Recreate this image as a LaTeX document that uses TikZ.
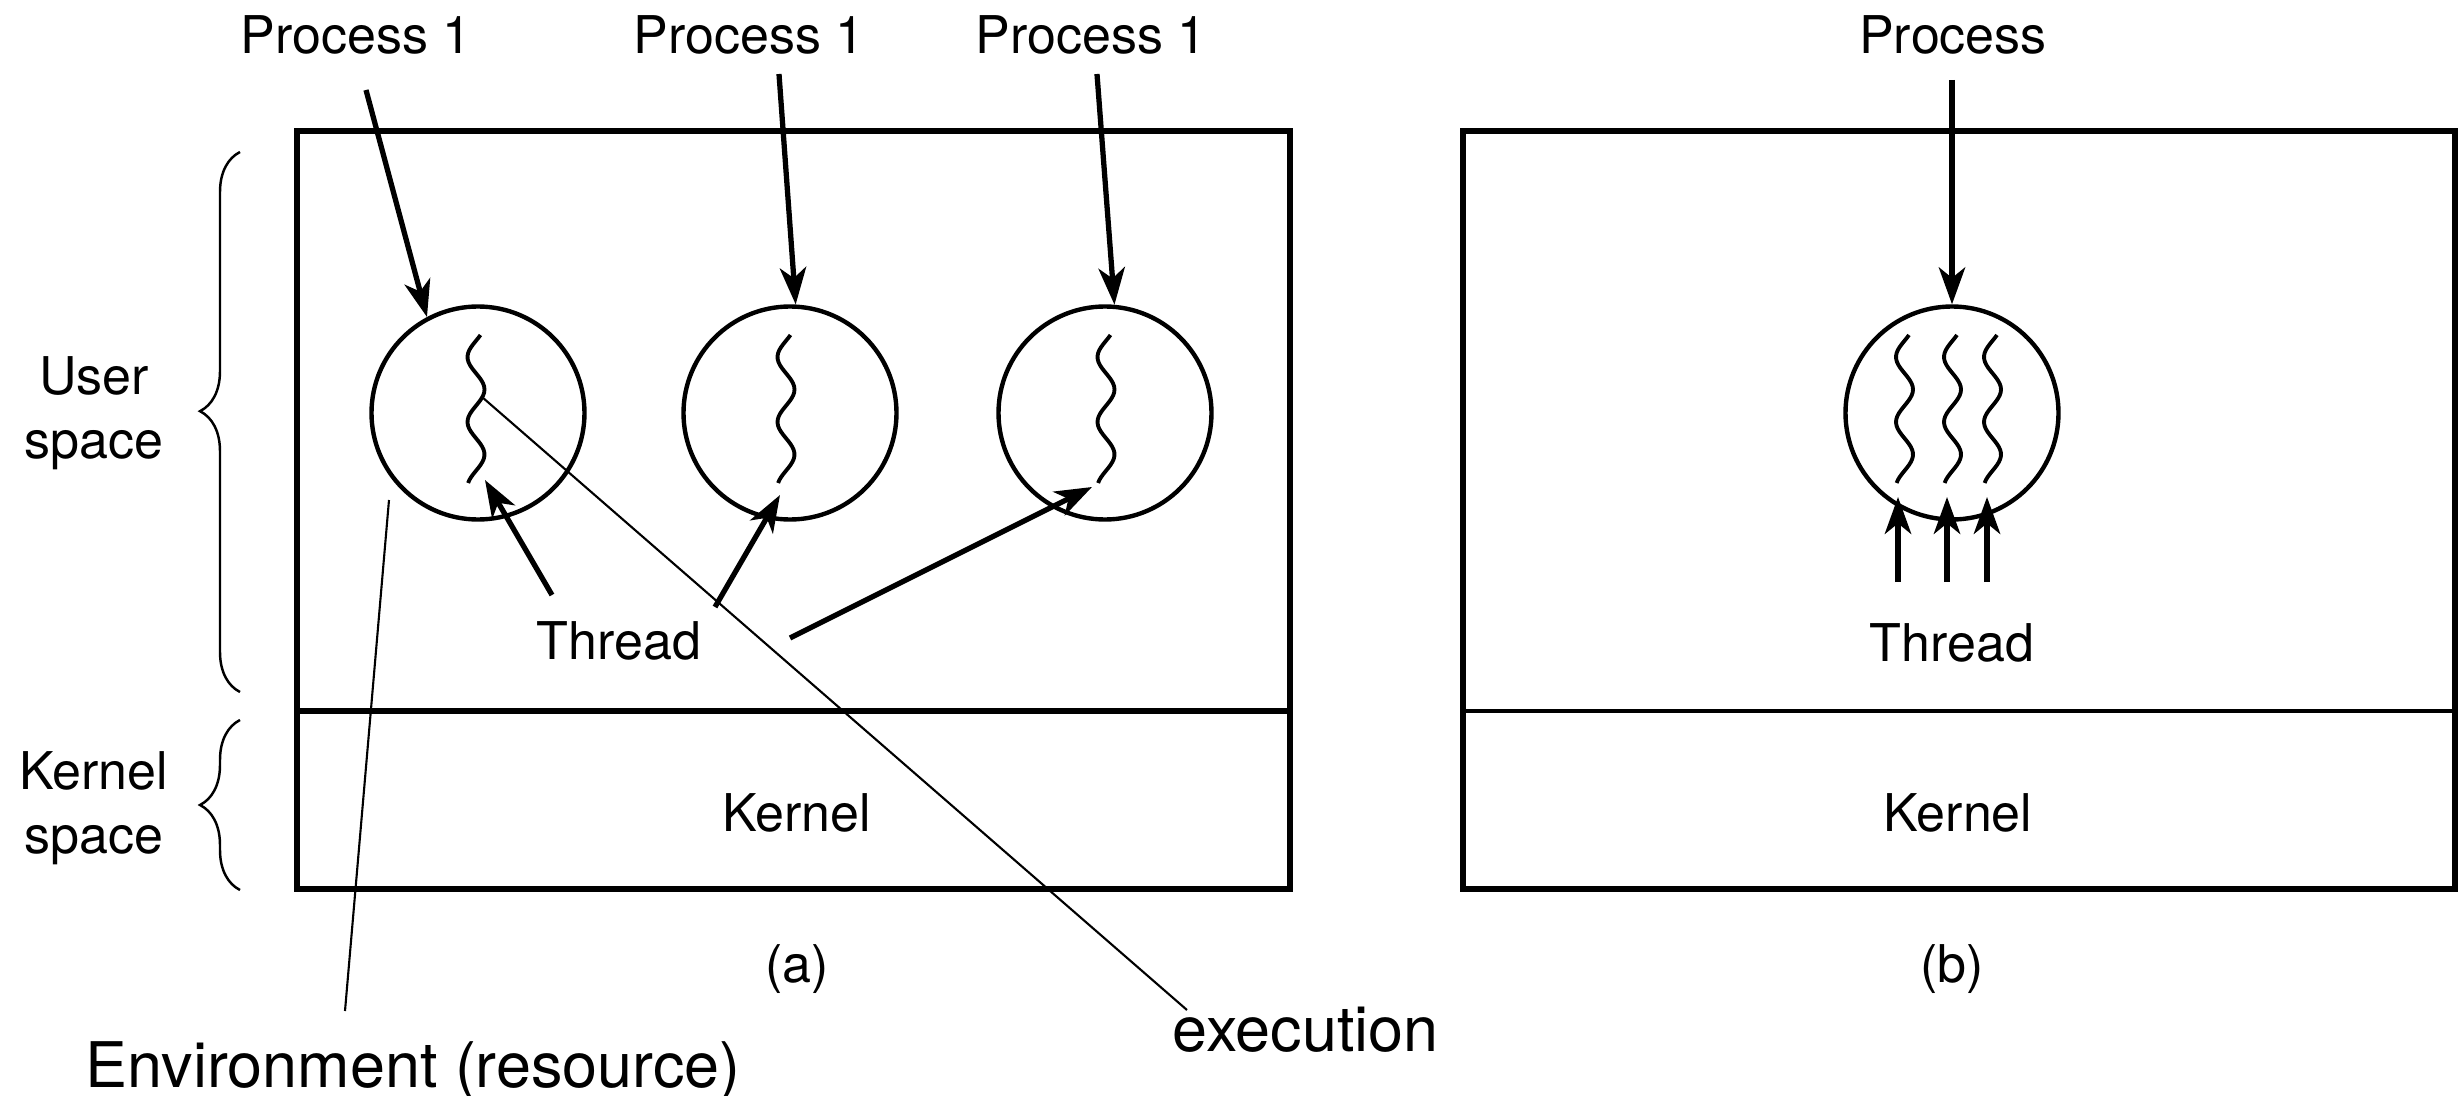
\documentclass[tikz,border=0pt]{standalone}
\usepackage{fontspec}
\setmainfont{TeX Gyre Heros}
\usetikzlibrary{arrows.meta}
\usetikzlibrary{decorations.pathreplacing}
\usetikzlibrary{calc}

\tikzset{
  lbl/.style={font=\fontsize{14.8}{18.2}\selectfont, inner sep=0pt},
  note/.style={font=\fontsize{17.9}{21.5}\selectfont, inner sep=0pt},
  proc/.style={circle, draw, line width=1.25pt, minimum size=21.3mm, inner sep=0pt},
  arr/.style={line width=1.5pt, -{Stealth[length=10.5pt,width=7.5pt,inset=3pt]}},
  wiggle/.pic={
    \draw[line width=1.1pt] plot[domain=0:148, samples=50, smooth]
      ({-8.5*sin((\x-5.75)*5.5385)}, {\x-78});
  }
}

\begin{document}
\begin{tikzpicture}[x=0.1mm, y=-0.1mm]
        \useasboundingbox (0,0) rectangle (2462,1096);
        % boxes
        \draw[line width=1.6pt] (297,131) rectangle (1290,889);
        \draw[line width=1.7pt] (297,711)--(1290,711);
        \draw[line width=1.5pt] (1463,131) rectangle (2455,889);
        \draw[line width=1.2pt] (1463,711)--(2455,711);
        % processes
        \node[proc] (c1) at (478,413) {};
        \node[proc] (c2) at (790,413) {};
        \node[proc] (c3) at (1105,413) {};
        \node[proc] (cb) at (1952,413) {};
        \pic at ($(c1)+(-2,0)$) {wiggle};
        \pic at ($(c2)+(-4,0)$) {wiggle};
        \pic at ($(c3)+(1,0)$) {wiggle};
        \foreach \dx in {-47.5,0.5,40.5} \pic at ($(cb)+(\dx,0)$) {wiggle};
        % labels on top
        \node[lbl,anchor=base] (p1) at (356,54) {Process 1};
        \node[lbl,anchor=base] (p2) at (749,54) {Process 1};
        \node[lbl,anchor=base] (p3) at (1091,54) {Process 1};
        \node[lbl,anchor=base] (pb) at (1953,54) {Process};
        \coordinate (s1) at (366,90);
        \coordinate (s2) at (779,74);
        \coordinate (s3) at (1097,74);
        \coordinate (sb) at (1952,80);
        \draw[arr] (s1)--(c1.118);
        \draw[arr] (s2)--(c2.87);
        \draw[arr] (s3)--(c3.85);
        \draw[arr] (sb)--(cb.north);
        % threads
        \node[lbl,anchor=base] (t) at (619,659) {Thread};
        \node[lbl,anchor=base] (tb) at (1952,661) {Thread};
        \coordinate (u1) at (552,595);
        \coordinate (u2) at (715,607);
        \coordinate (u3) at (790,638);
        \coordinate (h1) at ($(c1)+(7,67)$);
        \coordinate (h2) at ($(c2)+(-10,82)$);
        \coordinate (h3) at ($(c3)+(-13,74)$);
        \draw[arr] (u1)--(h1);
        \draw[arr] (u2)--(h2);
        \draw[arr] (u3)--(h3);
        \foreach \dx [count=\i] in {-54,-5,35} {
            \coordinate (ub\i) at ($(cb)+(\dx,169)$);
            \coordinate (hb\i) at ($(cb)+(\dx,84)$);
            \draw[arr] (ub\i)--(hb\i);
        }
        % kernel
        \node[lbl,anchor=base] (ka) at (797,831) {Kernel};
        \node[lbl,anchor=base] (kb) at (1958,831) {Kernel};
        \node[lbl,anchor=base] (la) at (797,982) {(a)};
        \node[lbl,anchor=base] (lb) at (1952,982) {(b)};
        % spaces
        \node[lbl,align=center] (us) at (94,413) {User\\space};
        \node[lbl,align=center] (ks) at (94,808) {Kernel\\space};
        \draw[line width=0.7pt,decorate,decoration={brace,amplitude=4mm,aspect=0.52}] (240,692)--(240,152);
        \draw[line width=0.7pt,decorate,decoration={brace,amplitude=4mm}] (240,890)--(240,720);
        % notes
        \node[note,anchor=base west] (env) at (85,1087) {Environment (resource)};
        \node[note,anchor=base west] (exe) at (1172,1051) {execution};
        \coordinate (en) at (389,500);
        \coordinate (enb) at (345,1011);
        \coordinate (ex) at (482,397);
        \coordinate (exb) at (1187,1010);
        \draw[line width=0.6pt] (en)--(enb);
        \draw[line width=0.6pt] (ex)--(exb);
    \end{tikzpicture}
\end{document}
